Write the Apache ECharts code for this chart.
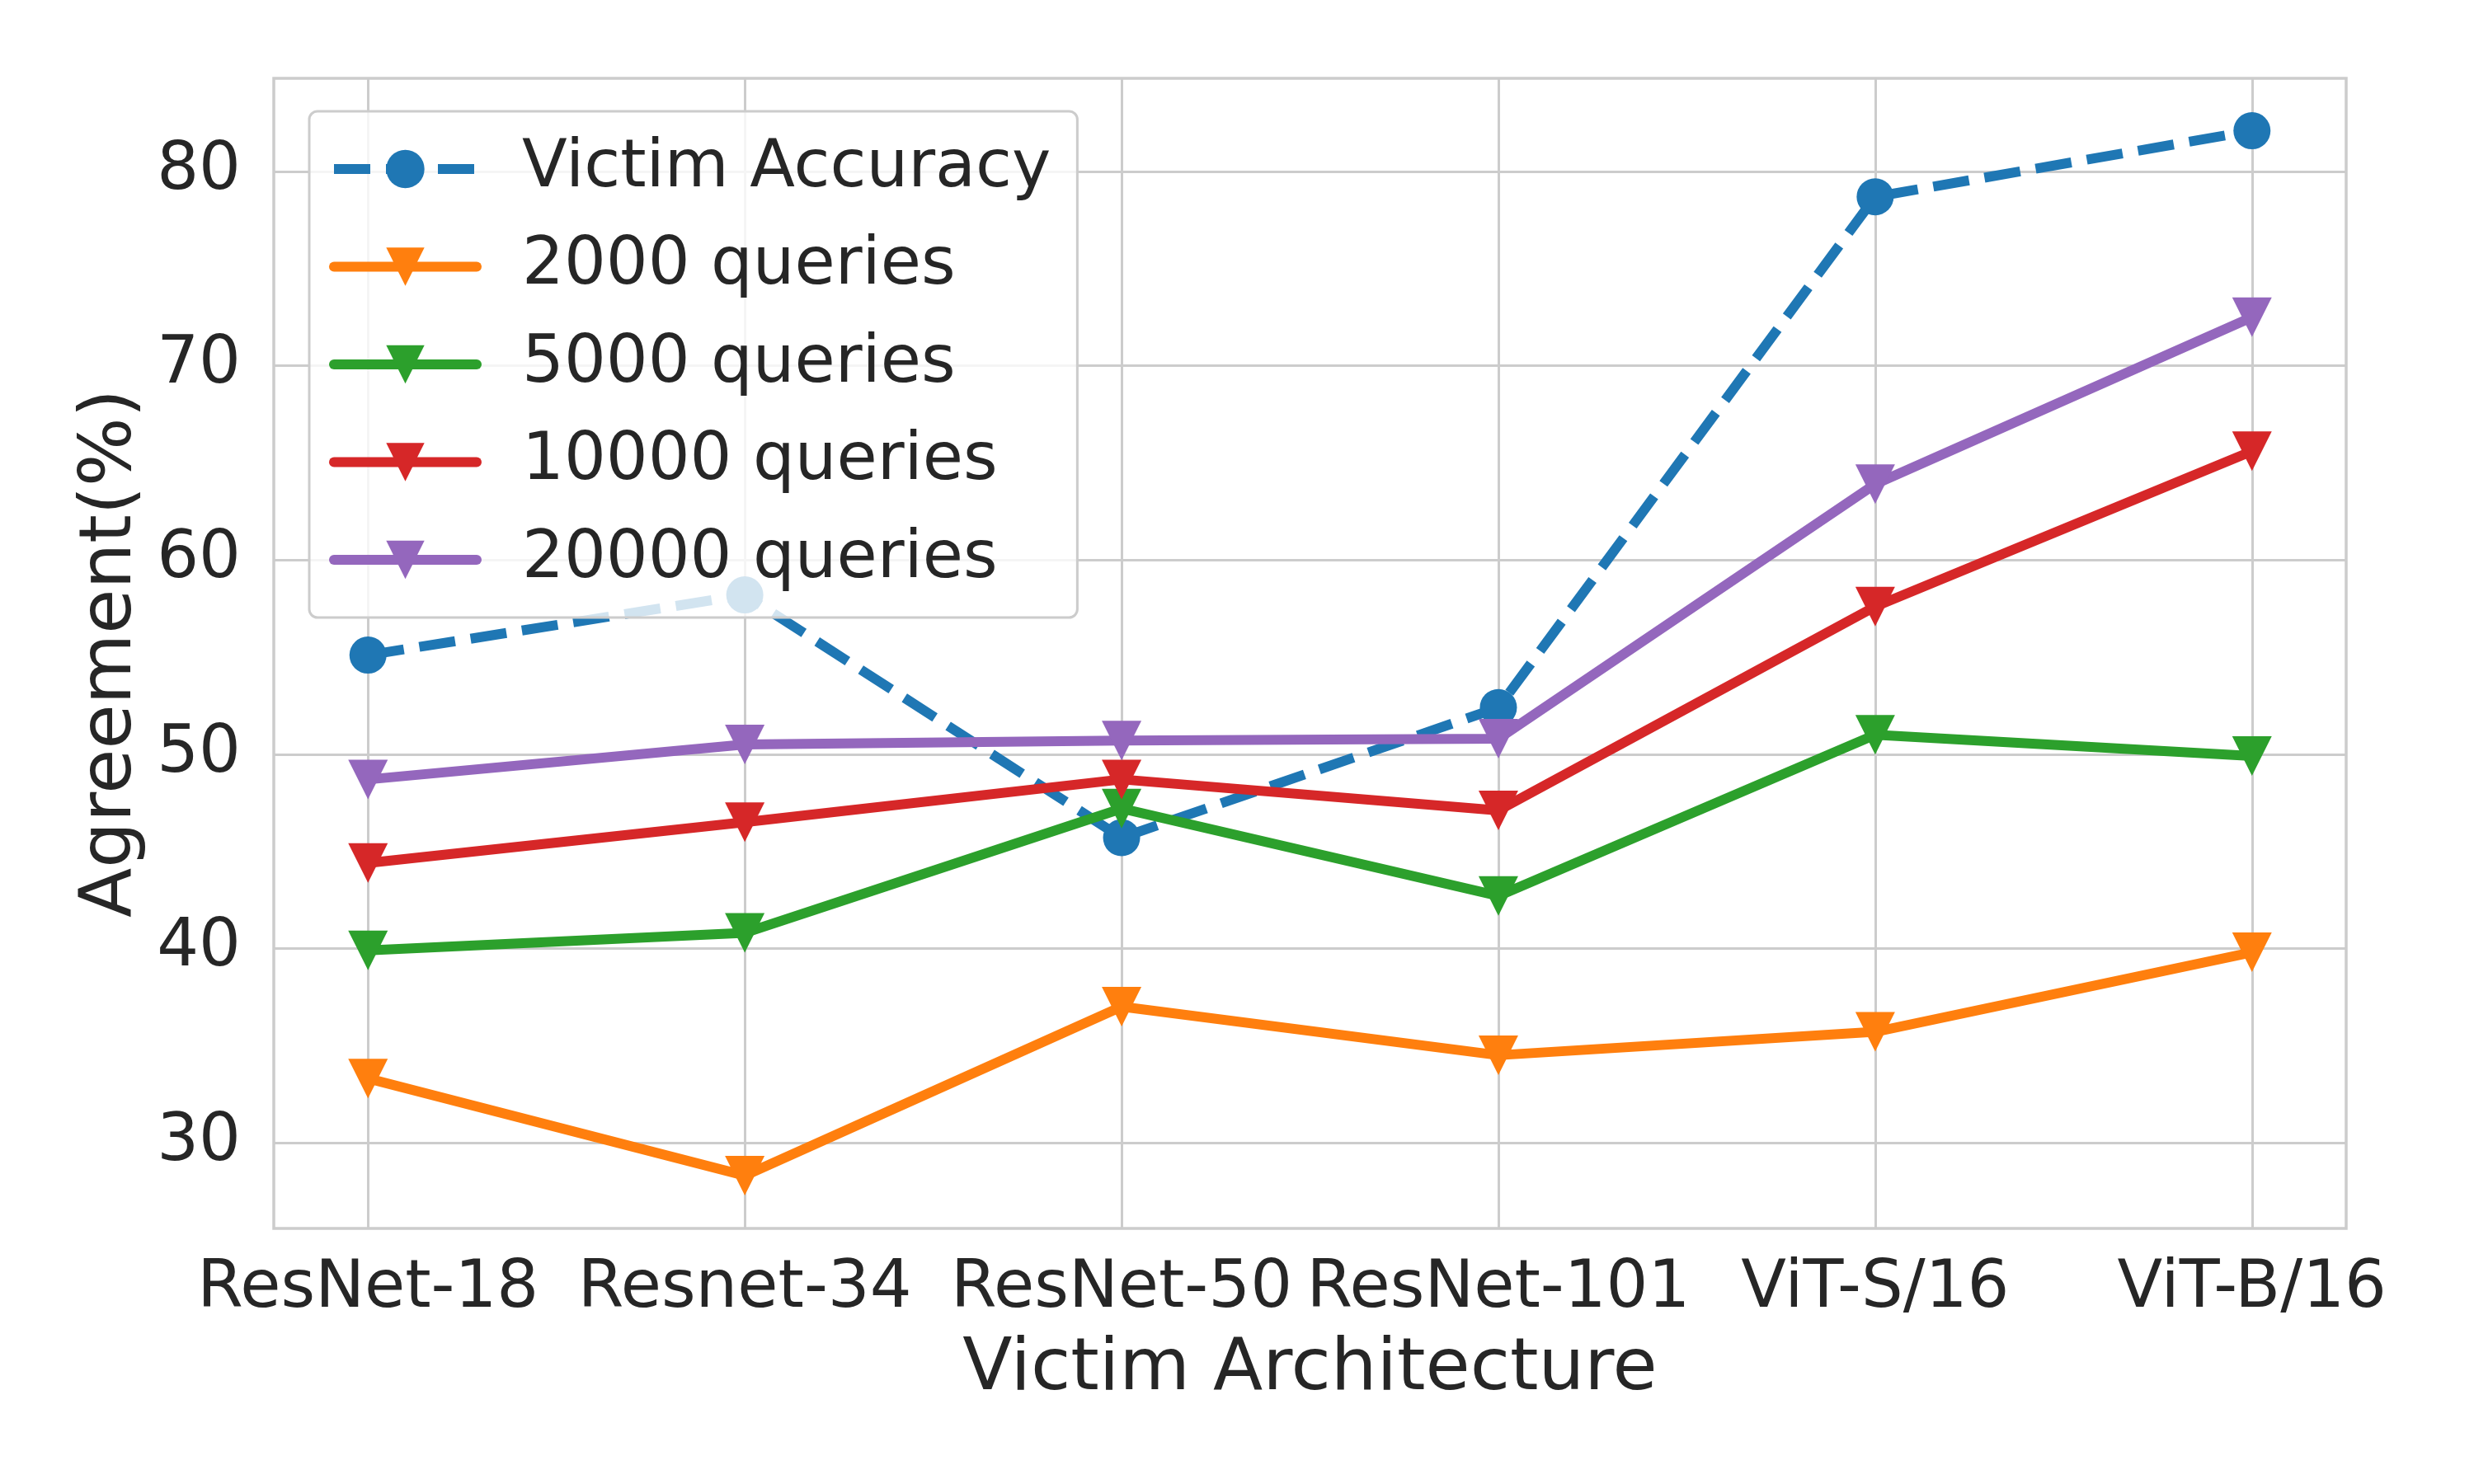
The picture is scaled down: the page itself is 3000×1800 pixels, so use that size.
<!DOCTYPE html>
<html>
<head>
<meta charset="utf-8">
<script src="https://cdn.jsdelivr.net/npm/echarts@6/dist/echarts.min.js"></script>
<style>html,body{margin:0;padding:0;background:#fff;}#c{width:3000px;height:1800px;}</style>
</head>
<body>
<div id="c"></div>
<script>
const categories = ['ResNet-18', 'Resnet-34', 'ResNet-50', 'ResNet-101', 'ViT-S/16', 'ViT-B/16'];
const victimAccuracy = [55.1, 58.2, 45.7, 52.4, 78.7, 82.1];
const q2000 = [33.3, 28.3, 37.0, 34.5, 35.7, 39.8];
const q5000 = [39.9, 40.8, 47.2, 42.7, 51.0, 49.9];
const q10000 = [44.4, 46.5, 48.7, 47.1, 57.6, 65.6];
const q20000 = [48.7, 50.5, 50.7, 50.8, 63.9, 72.5];
const yTicks = [30, 40, 50, 60, 70, 80];
const seriesNames = ['Victim Accuracy', '2000 queries', '5000 queries', '10000 queries', '20000 queries'];

const colors = ['#1f77b4', '#ff7f0e', '#2ca02c', '#d62728', '#9467bd'];
const txt = '#262626';
const font = 'DejaVu Sans';
const LW = 12;
const toPts = arr => arr.map((v, i) => [i, v]);

function triSeries(name, vals, color) {
  return {
    name: name, type: 'line', data: toPts(vals),
    symbol: 'triangle', symbolSize: [48, 48], symbolRotate: 180,
    lineStyle: {color: color, width: LW, cap: 'round', join: 'round'},
    itemStyle: {color: color},
    emphasis: {disabled: true}
  };
}

const chart = echarts.init(document.getElementById('c'), null, {renderer: 'canvas'});
chart.setOption({
  animation: false,
  backgroundColor: '#ffffff',
  color: colors,
  grid: {left: 332, right: 155, top: 95, bottom: 310, show: true, borderColor: '#cccccc', borderWidth: 3.5},
  legend: {
    left: 375, top: 135,
    orient: 'vertical',
    itemWidth: 173, itemHeight: 58, itemGap: 38.5,
    padding: [30, 32, 30, 24],
    backgroundColor: 'rgba(255,255,255,0.8)',
    borderColor: '#cccccc', borderWidth: 3, borderRadius: 10,
    lineStyle: {width: LW},
    textStyle: {fontFamily: font, fontSize: 80, color: txt, lineHeight: 80, padding: [0, 0, 0, 50]},
    data: seriesNames
  },
  xAxis: {
    type: 'value', min: -0.25, max: 5.25,
    name: 'Victim Architecture', nameLocation: 'middle', nameGap: 128,
    nameTextStyle: {fontFamily: font, fontSize: 88, color: txt},
    axisLine: {show: false},
    axisTick: {show: false, customValues: [0, 1, 2, 3, 4, 5]},
    axisLabel: {customValues: [0, 1, 2, 3, 4, 5], formatter: v => categories[Math.round(v)],
      fontFamily: font, fontSize: 80, color: txt, margin: 34},
    splitLine: {show: true, lineStyle: {color: '#cccccc', width: 3}}
  },
  yAxis: {
    type: 'value', min: 25.58, max: 84.8,
    name: 'Agreement(%)', nameLocation: 'middle', nameGap: 150,
    nameTextStyle: {fontFamily: font, fontSize: 88, color: txt},
    axisLine: {show: false},
    axisTick: {show: false, customValues: yTicks},
    axisLabel: {customValues: yTicks, fontFamily: font, fontSize: 80, color: txt, margin: 40},
    splitLine: {show: true, lineStyle: {color: '#cccccc', width: 3}}
  },
  series: [
    {
      name: seriesNames[0], type: 'line', data: toPts(victimAccuracy),
      symbol: 'circle', symbolSize: 45,
      lineStyle: {color: colors[0], width: LW, type: [44, 19], cap: 'butt', join: 'round'},
      itemStyle: {color: colors[0]},
      emphasis: {disabled: true}
    },
    triSeries(seriesNames[1], q2000, colors[1]),
    triSeries(seriesNames[2], q5000, colors[2]),
    triSeries(seriesNames[3], q10000, colors[3]),
    triSeries(seriesNames[4], q20000, colors[4])
  ]
});
</script>
</body>
</html>
